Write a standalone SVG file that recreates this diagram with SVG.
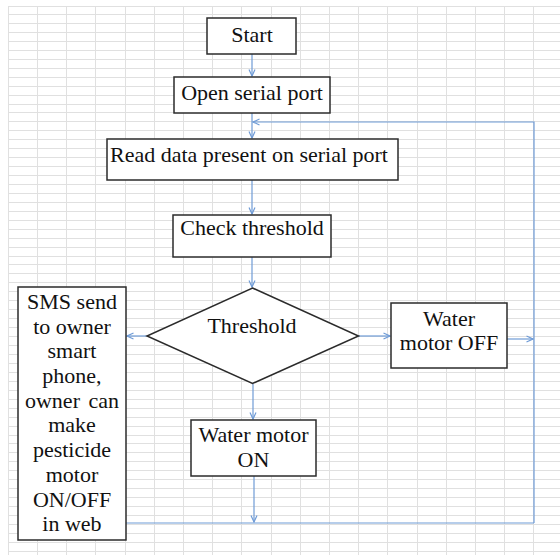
<svg xmlns="http://www.w3.org/2000/svg" width="560" height="555" viewBox="0 0 560 555">
<style>
.grid{stroke:#e0e0e0;stroke-width:1;fill:none}
.box{fill:#fff;stroke:#2b2b2b;stroke-width:1.5}
.t{font-family:"Liberation Serif","Times New Roman",serif;font-size:22px;fill:#111;text-anchor:middle}
.c{fill:none;stroke:#6f9bd6;stroke-width:1.2}
</style>
<defs>
<marker id="ah" markerUnits="userSpaceOnUse" markerWidth="8" markerHeight="8" refX="7" refY="4" orient="auto">
<path d="M0.5,1 L7,4 L0.5,7" fill="none" stroke="#6f9bd6" stroke-width="1.2"/>
</marker>
</defs>
<rect width="560" height="555" fill="#fff"/>
<g id="grid">
<path class="grid" d="M8,6.5H560M8,14.5H560M8,23.5H560M8,32.5H560M8,41.5H560M8,50.5H560M8,59.5H560M8,68.5H560M8,77.5H560M8,86.5H560M8,95.5H560M8,104.5H560M8,112.5H560M8,121.5H560M8,130.5H560M8,139.5H560M8,148.5H560M8,157.5H560M8,166.5H560M8,175.5H560M8,184.5H560M8,193.5H560M8,202.5H560M8,211.5H560M8,220.5H560M8,229.5H560M8,238.5H560M8,247.5H560M8,256.5H560M8,264.5H560M8,273.5H560M8,282.5H560M8,291.5H560M8,300.5H560M8,309.5H560M8,318.5H560M8,327.5H560M8,336.5H560M8,345.5H560M8,354.5H560M8,363.5H560M8,372.5H560M8,381.5H560M8,390.5H560M8,399.5H560M8,408.5H560M8,417.5H560M8,426.5H560M8,435.5H560M8,443.5H560M8,452.5H560M8,461.5H560M8,470.5H560M8,479.5H560M8,488.5H560M8,497.5H560M8,506.5H560M8,515.5H560M8,524.5H560M8,533.5H560M8,542.5H560M8,551.5H560"/>
<path class="grid" d="M8.5,6V555M37.5,6V555M66.5,6V555M95.5,6V555M125.5,6V555M154.5,6V555M183.5,6V555M212.5,6V555M241.5,6V555M271.5,6V555M300.5,6V555M329.5,6V555M358.5,6V555M387.5,6V555M417.5,6V555M446.5,6V555M475.5,6V555M504.5,6V555M533.5,6V555"/>
</g>
<g id="connectors">
<path class="c" d="M252,54V76" marker-end="url(#ah)"/>
<path class="c" d="M252,113V138" marker-end="url(#ah)"/>
<path class="c" d="M534,523V122H253" marker-end="url(#ah)"/>
<path class="c" d="M252,180V214" marker-end="url(#ah)"/>
<path class="c" d="M252,257V287" marker-end="url(#ah)"/>
<path class="c" d="M147,336H127" marker-end="url(#ah)"/>
<path class="c" d="M358,336H390" marker-end="url(#ah)"/>
<path class="c" d="M507,339H533" marker-end="url(#ah)"/>
<path class="c" d="M253,384V419" marker-end="url(#ah)"/>
<path class="c" d="M254,476V522" marker-end="url(#ah)"/>
<path class="c" d="M126,523H534"/>
</g>
<g id="start">
<rect class="box" x="207" y="18" width="89" height="36"/>
<text class="t" x="252" y="42">Start</text>
</g>
<g id="open">
<rect class="box" x="174" y="77" width="156" height="36"/>
<text class="t" x="252" y="100">Open serial port</text>
</g>
<g id="read">
<rect class="box" x="107" y="139" width="291" height="41"/>
<text class="t" x="249" y="162">Read data present on serial port</text>
</g>
<g id="check">
<rect class="box" x="173" y="215" width="158" height="42"/>
<text class="t" x="252" y="235">Check threshold</text>
</g>
<g id="threshold">
<polygon class="box" points="252.5,288 358.5,336 252.5,383.5 147,336"/>
<text class="t" x="252" y="333">Threshold</text>
</g>
<g id="sms">
<rect class="box" x="18" y="287" width="108" height="253"/>
<text class="t" x="72" y="309">SMS send</text>
<text class="t" x="72" y="333.5">to owner</text>
<text class="t" x="72" y="358.2">smart</text>
<text class="t" x="72" y="383">phone,</text>
<text class="t" x="72" y="407.7" word-spacing="3">owner can</text>
<text class="t" x="72" y="432.4">make</text>
<text class="t" x="72" y="457">pesticide</text>
<text class="t" x="72" y="481.8">motor</text>
<text class="t" x="72" y="506.5">ON/OFF</text>
<text class="t" x="72" y="531.2">in web</text>
</g>
<g id="motoroff">
<rect class="box" x="391" y="303" width="116" height="65"/>
<text class="t" x="449" y="326">Water</text>
<text class="t" x="449" y="350">motor OFF</text>
</g>
<g id="motoron">
<rect class="box" x="191" y="420" width="125" height="56"/>
<text class="t" x="253.5" y="442">Water motor</text>
<text class="t" x="253.5" y="467">ON</text>
</g>
</svg>
